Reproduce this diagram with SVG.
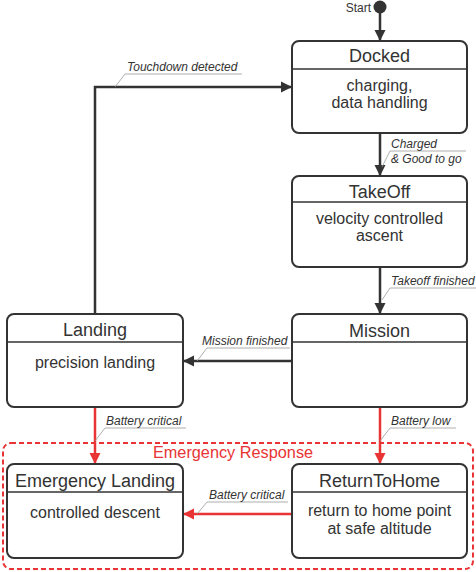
<svg xmlns="http://www.w3.org/2000/svg" width="476" height="572" viewBox="0 0 476 572">
<style>
.box{fill:#fff;stroke:#333;stroke-width:2}
.div{stroke:#333;stroke-width:1.5}
.title{font-family:"Liberation Sans",Arial,sans-serif;font-size:18px;fill:#333;text-anchor:middle}
.body{font-family:"Liberation Sans",Arial,sans-serif;font-size:16px;fill:#333;text-anchor:middle}
.lbl{font-family:"Liberation Sans",Arial,sans-serif;font-size:12px;font-style:italic;fill:#333}
.ul{stroke:#999;stroke-width:0.8;fill:none}
.c{fill:none;stroke:#333;stroke-width:2.5}
.cr{fill:none;stroke:#e83434;stroke-width:2.5}
</style>
<defs>
<marker id="ah" markerUnits="userSpaceOnUse" markerWidth="12" markerHeight="12" refX="11" refY="6" orient="auto"><path d="M0,0.5 L11,6 L0,11.5 z" fill="#333"/></marker>
<marker id="ahr" markerUnits="userSpaceOnUse" markerWidth="12" markerHeight="12" refX="11" refY="6" orient="auto"><path d="M0,0.5 L11,6 L0,11.5 z" fill="#e83434"/></marker>
</defs>
<g id="emergency-response">
<rect x="3" y="443" width="470" height="126" rx="8" fill="none" stroke="#e83434" stroke-width="2" stroke-dasharray="5 3"/>
<text x="233" y="458" font-family="'Liberation Sans',Arial,sans-serif" font-size="16.3" fill="#e83434" text-anchor="middle">Emergency Response</text>
</g>
<g id="start">
<circle cx="380" cy="7" r="6.5" fill="#333"/>
<text x="371" y="12" font-family="'Liberation Sans',Arial,sans-serif" font-size="12" fill="#333" text-anchor="end">Start</text>
</g>
<g id="connectors">
<path class="c" d="M380,13 V41" marker-end="url(#ah)"/>
<path class="c" d="M380,133 V176" marker-end="url(#ah)"/>
<path class="c" d="M380,267 V314" marker-end="url(#ah)"/>
<path class="c" d="M292,361 H183" marker-end="url(#ah)"/>
<path class="c" d="M95,314 V87 H292" marker-end="url(#ah)"/>
<path class="cr" d="M95,407 V464" marker-end="url(#ahr)"/>
<path class="cr" d="M380,407 V464" marker-end="url(#ahr)"/>
<path class="cr" d="M292,514 H183" marker-end="url(#ahr)"/>
<path class="ul" d="M382,167 L390,151 H466"/>
<text class="lbl" x="391" y="148">Charged</text>
<text class="lbl" x="391" y="163">&amp; Good to go</text>
<path class="ul" d="M382,300 L390,288 H476"/>
<text class="lbl" x="391" y="285">Takeoff finished</text>
<path class="ul" d="M197,361 L207,348 H290"/>
<text class="lbl" x="202" y="345">Mission finished</text>
<path class="ul" d="M115,87 L125,74 H242"/>
<text class="lbl" x="127" y="71">Touchdown detected</text>
<path class="ul" d="M95,441 L105,428 H186"/>
<text class="lbl" x="106" y="425">Battery critical</text>
<path class="ul" d="M380,441 L390,428 H456"/>
<text class="lbl" x="391" y="425">Battery low</text>
<path class="ul" d="M197,514 L207,502 H288"/>
<text class="lbl" x="209" y="499">Battery critical</text>
</g>
<g id="docked">
<rect class="box" x="292" y="41" width="175" height="92" rx="7"/>
<line class="div" x1="292" y1="69" x2="467" y2="69"/>
<text class="title" x="379.5" y="62">Docked</text>
<text class="body" x="379.5" y="91">charging,</text>
<text class="body" x="379.5" y="108">data handling</text>
</g>
<g id="takeoff">
<rect class="box" x="292" y="176" width="175" height="91" rx="7"/>
<line class="div" x1="292" y1="202" x2="467" y2="202"/>
<text class="title" x="379.5" y="198">TakeOff</text>
<text class="body" x="379.5" y="224">velocity controlled</text>
<text class="body" x="379.5" y="241">ascent</text>
</g>
<g id="mission">
<rect class="box" x="292" y="314" width="175" height="93" rx="7"/>
<line class="div" x1="292" y1="342" x2="467" y2="342"/>
<text class="title" x="379.5" y="337">Mission</text>
</g>
<g id="landing">
<rect class="box" x="7" y="314" width="176" height="93" rx="7"/>
<line class="div" x1="7" y1="342" x2="183" y2="342"/>
<text class="title" x="95" y="336">Landing</text>
<text class="body" x="95" y="368">precision landing</text>
</g>
<g id="emergency-landing">
<rect class="box" x="7" y="464" width="176" height="94" rx="7"/>
<line class="div" x1="7" y1="492" x2="183" y2="492"/>
<text class="title" x="95" y="487">Emergency Landing</text>
<text class="body" x="95" y="518">controlled descent</text>
</g>
<g id="return-to-home">
<rect class="box" x="292" y="464" width="175" height="94" rx="7"/>
<line class="div" x1="292" y1="492" x2="467" y2="492"/>
<text class="title" x="379.5" y="487">ReturnToHome</text>
<text class="body" x="379.5" y="516">return to home point</text>
<text class="body" x="379.5" y="534">at safe altitude</text>
</g>
</svg>
